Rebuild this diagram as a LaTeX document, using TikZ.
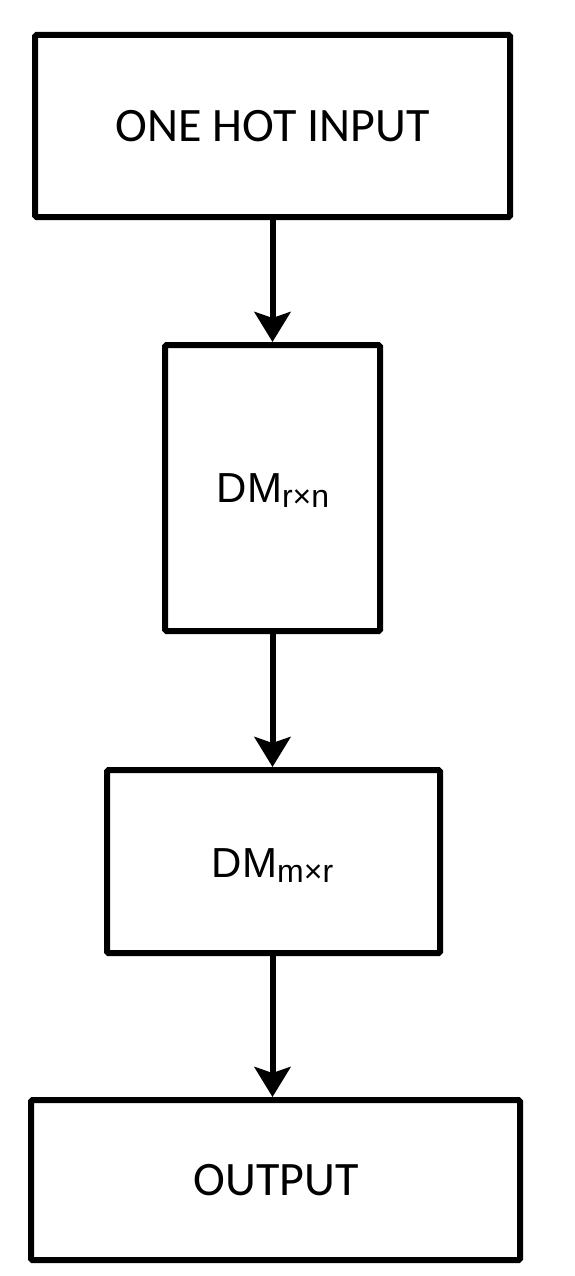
\documentclass[tikz,border=0pt]{standalone}
\usepackage{fontspec}
\setmainfont{Carlito}
\newfontfamily\dmfont{Liberation Sans}
\usetikzlibrary{arrows.meta}
\newcommand{\dmsub}[1]{{\fontsize{32}{34}\selectfont\raisebox{-5pt}{#1}}}
\begin{document}
\begin{tikzpicture}[x=1pt,y=-1pt,
  box/.style={draw=black, line width=6pt, rounded corners=1.5pt, inner sep=0pt},
  lbl/.style={inner sep=0pt, anchor=base, font=\fontsize{48}{54}\selectfont},
  dmlbl/.style={inner sep=0pt, anchor=base, font=\dmfont\fontsize{42}{48}\selectfont},
  conn/.style={line width=6pt, -{Stealth[length=30pt,width=36pt,inset=6pt]}}]
\useasboundingbox[fill=white] (0,0) rectangle (574,1276);
\node[box, minimum width=475pt, minimum height=182pt] (input) at (272.5,126) {};
\node[lbl] (inputt) at (272.5,142) {ONE HOT INPUT};
\node[box, minimum width=215pt, minimum height=286pt] (dm1) at (272.5,488) {};
\node[dmlbl] (dm1t) at (273,502) {DM\dmsub{r×n}};
\node[box, minimum width=333pt, minimum height=183pt] (dm2) at (273.5,861.5) {};
\node[dmlbl] (dm2t) at (272.5,877) {DM\dmsub{m×r}};
\node[box, minimum width=489pt, minimum height=160pt] (out) at (275.5,1180) {};
\node[lbl] (outt) at (276,1195) {OUTPUT};
\draw[conn] (input.south) -- (dm1.north);
\draw[conn] (dm1.south) -- (dm2.north -| dm1.south);
\draw[conn] (dm2.south -| dm1.south) -- (out.north -| dm1.south);
\end{tikzpicture}
\end{document}
